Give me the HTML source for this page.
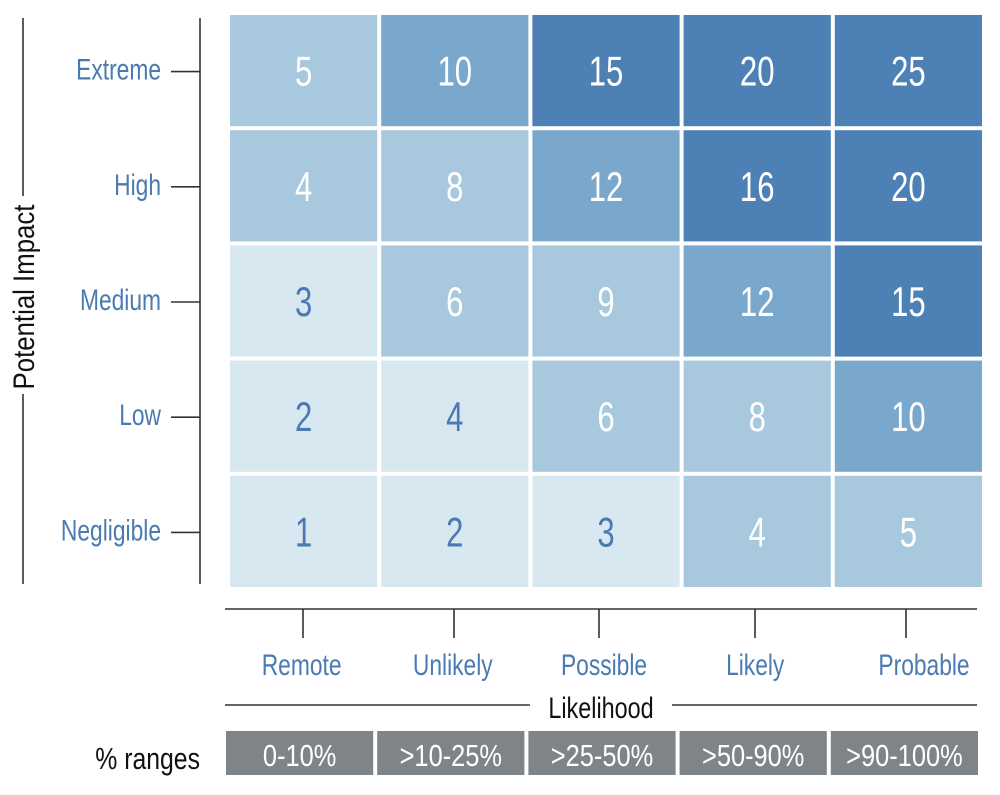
<!DOCTYPE html>
<html><head><meta charset="utf-8"><style>
body{margin:0;background:#fff;}
svg text{font-family:"Liberation Sans Narrow","Liberation Sans",sans-serif;}
</style></head><body>
<svg id="chart" width="1000" height="790" xmlns="http://www.w3.org/2000/svg"></svg>
<script>
const impacts = ["Extreme","High","Medium","Low","Negligible"];
const likelihoods = ["Remote","Unlikely","Possible","Likely","Probable"];
const ranges = ["0-10%",">10-25%",">25-50%",">50-90%",">90-100%"];
const scores = [
  [5,10,15,20,25],
  [4,8,12,16,20],
  [3,6,9,12,15],
  [2,4,6,8,10],
  [1,2,3,4,5]
];
const levels = [
  [1,2,3,3,3],
  [1,1,2,3,3],
  [0,1,1,2,3],
  [0,0,1,1,2],
  [0,0,0,1,1]
];
const palette = ["#d8e8f0","#a8c8dd","#7aa8cc","#4d80b5"];
const NS="http://www.w3.org/2000/svg";
const svg=document.getElementById('chart');
function mk(tag,attrs,parent){const e=document.createElementNS(NS,tag);for(const k in attrs)e.setAttribute(k,attrs[k]);(parent||svg).appendChild(e);return e;}
function txt(x,y,s,size,fill,anchor,sx,rot){
  const t=mk('text',{x:0,y:0,'text-anchor':anchor,'font-size':size,fill:fill,
    transform:'translate('+x+','+y+')'+(rot?' rotate('+rot+')':'')+' scale('+sx+',1)'});
  t.textContent=s;return t;
}
const gx0=230,gx1=982,gy0=15,gy1=587,gap=4;
const cw=(gx1-gx0+gap)/5, ch=(gy1-gy0+gap)/5;
const xCol=i=>gx0+i*cw, yRow=j=>gy0+j*ch;
const blue="#4a7ab1";
const SX=0.74;
for(let r=0;r<scores.length;r++){for(let c=0;c<scores[r].length;c++){
  const lv=levels[r][c];
  const rect=mk('rect',{x:xCol(c),y:yRow(r),width:cw-gap,height:ch-gap,fill:palette[lv]});
  
  
  const t=txt(xCol(c)+(cw-gap)/2,yRow(r)+(ch-gap)/2+15,String(scores[r][c]),42,lv===0?blue:"#fff",'middle',SX);
  
  
}}
const ax=mk('g',{stroke:'#333','stroke-width':1.6});


mk('line',{x1:200,y1:18,x2:200,y2:584},ax);
mk('line',{x1:23,y1:18,x2:23,y2:196},ax);
mk('line',{x1:23,y1:394,x2:23,y2:584},ax);
mk('line',{x1:225,y1:609,x2:977,y2:609},ax);
mk('line',{x1:225,y1:705,x2:530,y2:705},ax);
mk('line',{x1:672,y1:705,x2:977,y2:705},ax);
impacts.forEach((n,r)=>{
  const y=yRow(r)+(ch-gap)/2;
  mk('line',{x1:171,y1:y+1,x2:200,y2:y+1},ax);
  const t=txt(161,y+9,n,30,blue,'end',0.76);
  
  
});
const tickX=[303,454,599,755,906];
likelihoods.forEach((n,c)=>{
  const x=xCol(c)+(cw-gap)/2;
  mk('line',{x1:tickX[c],y1:609,x2:tickX[c],y2:638},ax);
  const t=txt(c===4?924:x-2,675,n,30,blue,'middle',0.76);
  
  
  const b=mk('rect',{x:xCol(c)-4,y:731,width:cw-gap,height:44,fill:'#7f8488'});
  
  
  const rt=txt(xCol(c)-4+(cw-gap)/2,766,ranges[c],31,'#fff','middle',0.82);
  
  
});
const yt=txt(34,297,"Potential Impact",30,'#111','middle',0.86,-90);


const xt=txt(601,718,"Likelihood",30,'#111','middle',0.78);


const pr=txt(200,769,"% ranges",31,'#111','end',0.8);


</script>
</body></html>
